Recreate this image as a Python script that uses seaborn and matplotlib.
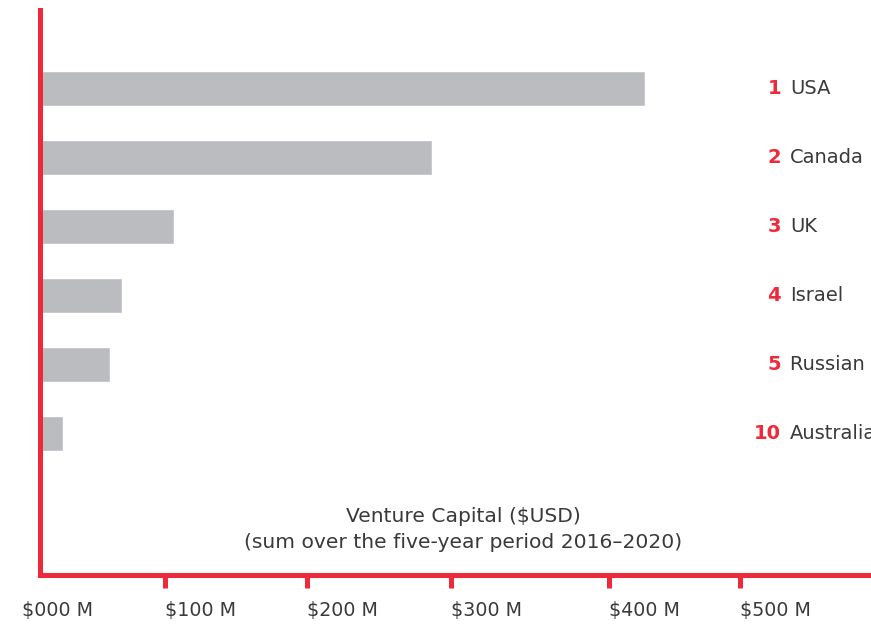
import matplotlib
matplotlib.use("Agg")
import matplotlib.pyplot as plt
import matplotlib.transforms as mtransforms
import seaborn as sns
import pandas as pd

# ---- data ----
countries = ["USA", "Canada", "UK", "Israel", "Russian Federation", "Australia"]
ranks = ["1", "2", "3", "4", "5", "10"]
vc_musd = [432.5, 280.4, 96.1, 58.9, 50.4, 16.8]
tick_labels = ["$000 M", "$100 M", "$200 M", "$300 M", "$400 M", "$500 M"]
title_lines = ["Venture Capital ($USD)", "(sum over the five-year period 2016\u20132020)"]

# ---- layout / style ----
tick_pos = [0, 89.3, 191.1, 293.9, 407.1, 500]
RED = "#EE2A3A"
GREY = "#BBBCC0"
TXT = "#3A3A3A"
W, H = 871, 625

sns.set_style("white")
plt.rcParams["font.family"] = ["DejaVu Sans"]

df = pd.DataFrame({"country": countries, "vc": vc_musd})

fig = plt.figure(figsize=(W / 100, H / 100), dpi=100)
ax_l, ax_r, ax_t, ax_b = 39.5, 871, 9.5, 575
ax = fig.add_axes([ax_l / W, 1 - ax_b / H, (ax_r - ax_l) / W, (ax_b - ax_t) / H])

sns.barplot(data=df, x="vc", y="country", orient="h", color=GREY,
            saturation=1, width=0.507, ax=ax, zorder=1)

px_per = 1.4
ax.set_xlim(0, (ax_r - ax_l) / px_per)
top_units = (88.5 - ax_t) / 69
bot_units = (ax_b - 88.5) / 69
ax.set_ylim(bot_units, -top_units)

for s in ["top", "right"]:
    ax.spines[s].set_visible(False)
for s in ["left", "bottom"]:
    ax.spines[s].set_color(RED)
    ax.spines[s].set_linewidth(3.6)
    ax.spines[s].set_zorder(3)

ax.set_yticks([])
ax.set_ylabel("")
ax.set_xlabel("")
ax.set_xticks(tick_pos)
ax.set_xticklabels(tick_labels, ha="left", fontsize=13.7, color=TXT)
ax.tick_params(axis="x", direction="out", length=9.4, width=3.6, color=RED, pad=9, bottom=True)
ax.xaxis.get_major_ticks()[0].tick1line.set_visible(False)
first = ax.get_xticklabels()[0]
first.set_transform(first.get_transform() + mtransforms.ScaledTranslation(-17.5 / 100, 0, fig.dpi_scale_trans))

# rank + name labels at right
for i, (r, c) in enumerate(zip(ranks, countries)):
    ax.text((781 - ax_l) / px_per, i, r, ha="right", va="center", fontsize=14,
            fontweight="bold", color=RED, clip_on=False)
    ax.text((790 - ax_l) / px_per, i, c, ha="left", va="center", fontsize=14,
            color=TXT, clip_on=False)

fig.text(463 / W, 1 - 522 / H, title_lines[0], ha="center", va="baseline", fontsize=14.6, color=TXT)
fig.text(463 / W, 1 - 548 / H, title_lines[1], ha="center", va="baseline", fontsize=14.6, color=TXT)

fig.savefig("out.png", dpi=100)
